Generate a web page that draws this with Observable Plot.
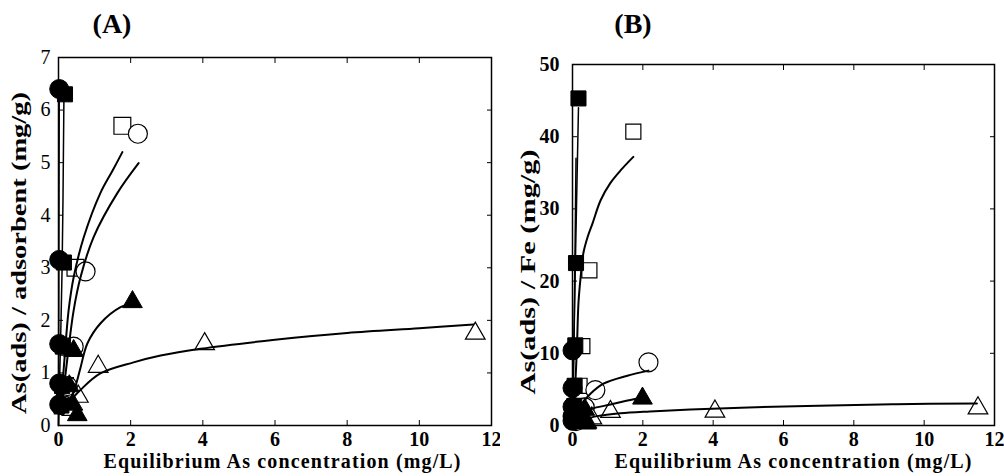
<!DOCTYPE html>
<html><head><meta charset="utf-8">
<script src="https://cdn.jsdelivr.net/npm/d3@7"></script>
<script src="https://cdn.jsdelivr.net/npm/@observablehq/plot@0.6"></script>
<style>
body{margin:0;background:#fff;}
#wrap{position:relative;width:1004px;height:476px;overflow:hidden;background:#fff;font-family:"Liberation Serif",serif;}
#wrap svg{position:absolute;top:0;}
</style></head><body><div id="wrap"></div>
<script>
// ---- shared ticks ----
const xTicks = [0, 2, 4, 6, 8, 10, 12];
const yTicksA = [0, 1, 2, 3, 4, 5, 6, 7];
const yTicksB = [0, 10, 20, 30, 40, 50];

// ---- Panel A: As(ads)/adsorbent (mg/g) ----
const aFilledCircleX = [0.02, 0.02, 0.02, 0.02, 0.02];
const aFilledCircleY = [6.4, 3.15, 1.55, 0.8, 0.4];
const aFilledSquareX = [0.18, 0.15, 0.12, 0.1, 0.08];
const aFilledSquareY = [6.3, 3.1, 1.5, 0.75, 0.38];
const aOpenSquareX = [1.77, 0.47, 0.28, 0.18, 0.12];
const aOpenSquareY = [5.7, 3.0, 1.5, 0.75, 0.38];
const aOpenCircleX = [2.2, 0.75, 0.42, 0.25, 0.15];
const aOpenCircleY = [5.55, 2.93, 1.5, 0.75, 0.38];
const aFilledTriX = [2.05, 0.42, 0.3, 0.4, 0.52];
const aFilledTriY = [2.35, 1.42, 0.75, 0.4, 0.2];
const aOpenTriX = [11.55, 4.05, 1.1, 0.55, 0.4];
const aOpenTriY = [1.75, 1.55, 1.12, 0.55, 0.3];

// fitted curves, panel A
const aLineCircleX = [0.0, 0.01, 0.02];
const aLineCircleY = [0.0, 3.0, 6.2];
const aLineSquareX = [0.0, 0.1, 0.15];
const aLineSquareY = [0.0, 3.0, 6.2];
const aLineOpenSquareX = [0.08, 0.17, 0.28, 0.42, 0.7, 1.16, 1.5, 1.77];
const aLineOpenSquareY = [0.5, 1.3, 2.19, 2.82, 3.58, 4.42, 4.85, 5.2];
const aLineOpenCircleX = [0.1, 0.25, 0.42, 0.61, 0.97, 1.63, 2.22];
const aLineOpenCircleY = [0.4, 1.3, 2.19, 2.82, 3.58, 4.42, 4.99];
const aLineFilledTriX = [0.1, 0.3, 0.47, 0.61, 0.8, 1.16, 1.72, 2.05];
const aLineFilledTriY = [0.2, 0.45, 0.75, 1.1, 1.56, 1.94, 2.25, 2.32];
const aLineOpenTriX = [0.3, 0.6, 1.16, 2.08, 2.83, 3.94, 6, 8, 10, 11.5];
const aLineOpenTriY = [0.45, 0.67, 0.99, 1.2, 1.33, 1.46, 1.63, 1.76, 1.85, 1.92];

// ---- Panel B: As(ads)/Fe (mg/g) ----
const bFilledCircleX = [0.0, 0.0, 0.0, 0.0, 0.0];
const bFilledCircleY = [10.4, 5.2, 2.6, 1.3, 0.65];
const bFilledSquareX = [0.17, 0.1, 0.08, 0.06, 0.05];
const bFilledSquareY = [45.3, 22.5, 11.1, 5.5, 2.7];
const bOpenSquareX = [1.73, 0.48, 0.28, 0.2, 0.15];
const bOpenSquareY = [40.7, 21.5, 11.0, 5.5, 2.7];
const bOpenCircleX = [2.16, 0.65, 0.35, 0.2, 0.1];
const bOpenCircleY = [8.75, 4.9, 2.5, 1.25, 0.6];
const bFilledTriX = [1.99, 0.35, 0.3, 0.35, 0.4];
const bFilledTriY = [3.75, 2.2, 1.1, 0.6, 0.3];
const bOpenTriX = [11.53, 4.05, 1.08, 0.55, 0.4];
const bOpenTriY = [2.4, 1.95, 1.9, 1.0, 0.5];

const bLineSquareX = [0.0, 0.08, 0.17];
const bLineSquareY = [0.0, 22, 44];
const bLineCircleX = [0.0, 0.05, 0.1];
const bLineCircleY = [0.0, 15, 37];
const bLineOpenSquareX = [0.05, 0.12, 0.17, 0.23, 0.31, 0.43, 0.57, 0.8, 1.08, 1.4, 1.73];
const bLineOpenSquareY = [3, 10, 17, 20.5, 23.9, 26.1, 28, 31.2, 33.6, 35.5, 37.2];
const bLineOpenCircleX = [0.1, 0.3, 0.51, 0.88, 1.56, 2.16];
const bLineOpenCircleY = [1.5, 3.2, 4.4, 5.8, 6.9, 7.6];
const bLineFilledTriX = [0.1, 0.3, 0.6, 1.08, 1.5, 1.85];
const bLineFilledTriY = [1.0, 1.8, 2.4, 2.9, 3.4, 3.75];
const bLineOpenTriX = [0.3, 0.7, 1.36, 2.2, 3.35, 5, 7, 9.2, 11.5];
const bLineOpenTriY = [0.8, 1.3, 1.7, 1.95, 2.2, 2.5, 2.75, 2.95, 3.05];

const pts = (xs, ys) => xs.map((x, i) => ({x, y: ys[i]}));
const FONT = "Liberation Serif, Times New Roman, Times, serif";
const intFmt = d3.format("d");

function panel(o) {
  const open = (xs, ys, symbol, r) => Plot.dot(pts(xs, ys), {x: "x", y: "y", symbol, r, fill: "white", stroke: "black", strokeWidth: 1.2});
  const filled = (xs, ys, symbol, r) => Plot.dot(pts(xs, ys), {x: "x", y: "y", symbol, r, fill: "black", stroke: "black", strokeWidth: 1});
  const line = (xs, ys, w) => Plot.line(pts(xs, ys), {x: "x", y: "y", stroke: "black", strokeWidth: w || 2, curve: "catmull-rom"});
  return Plot.plot({
    width: o.width, height: 476,
    marginLeft: o.ml, marginRight: o.mr, marginTop: o.mt, marginBottom: o.mb,
    x: {domain: [0, 12]},
    y: {domain: o.yDomain},
    style: {fontFamily: FONT, fontSize: "20px", color: "black", background: "white", overflow: "visible"},
    marks: [
      ...o.open.map(s => open(s[0], s[1], s[2], s[3])),
      ...o.lines.map(s => line(s[0], s[1], s[2])),
      ...o.filled.map(s => filled(s[0], s[1], s[2], s[3])),
      Plot.axisX({anchor: "bottom", ticks: xTicks, tickSize: -5, tickPadding: 11, tickFormat: intFmt, label: null, fontWeight: "bold"}),
      Plot.axisX({anchor: "top", ticks: xTicks, tickSize: -5, tickFormat: () => "", label: null}),
      Plot.axisY({anchor: "left", ticks: o.yTicks, tickSize: -5, tickPadding: o.yPad, tickFormat: intFmt, label: null, fontWeight: o.yWeight}),
      Plot.axisY({anchor: "right", ticks: o.yTicks, tickSize: -5, tickFormat: () => "", label: null}),
      Plot.frame({stroke: "black", strokeWidth: 1.5})
    ]
  });
}

const A = panel({
  width: 500, ml: 58, mr: 9, mt: 57, mb: 51, yDomain: [0, 7], yTicks: yTicksA, yPad: 13, yWeight: "normal",
  open: [
    [aOpenSquareX, aOpenSquareY, "square", 9.5],
    [aOpenCircleX, aOpenCircleY, "circle", 9.5],
    [aOpenTriX, aOpenTriY, "triangle", 7.3]
  ],
  lines: [
    [aLineCircleX, aLineCircleY, 1.5],
    [aLineSquareX, aLineSquareY, 1.5],
    [aLineOpenSquareX, aLineOpenSquareY],
    [aLineOpenCircleX, aLineOpenCircleY],
    [aLineFilledTriX, aLineFilledTriY],
    [aLineOpenTriX, aLineOpenTriY]
  ],
  filled: [
    [aFilledTriX, aFilledTriY, "triangle", 7.3],
    [aFilledSquareX, aFilledSquareY, "square", 8.5],
    [aFilledCircleX, aFilledCircleY, "circle", 9.5]
  ]
});
A.style.left = "0px";

const B = panel({
  width: 504, ml: 72, mr: 10, mt: 64, mb: 51, yDomain: [0, 50], yTicks: yTicksB, yPad: 18, yWeight: "bold",
  open: [
    [bOpenSquareX, bOpenSquareY, "square", 8.5],
    [bOpenCircleX, bOpenCircleY, "circle", 9.5],
    [bOpenTriX, bOpenTriY, "triangle", 7.3]
  ],
  lines: [
    [bLineSquareX, bLineSquareY, 1.5],
    [bLineCircleX, bLineCircleY, 1.5],
    [bLineOpenSquareX, bLineOpenSquareY],
    [bLineOpenCircleX, bLineOpenCircleY],
    [bLineFilledTriX, bLineFilledTriY],
    [bLineOpenTriX, bLineOpenTriY]
  ],
  filled: [
    [bFilledTriX, bFilledTriY, "triangle", 7.3],
    [bFilledCircleX, bFilledCircleY, "circle", 9.5],
    [bFilledSquareX, bFilledSquareY, "square", 8.5]
  ]
});
B.style.left = "500px";

const wrap = document.getElementById("wrap");
wrap.appendChild(A);
wrap.appendChild(B);

// ---- titles, panel labels ----
const ov = d3.select(wrap).append("svg")
  .attr("width", 1004).attr("height", 476)
  .style("left", "0px")
  .style("font-family", FONT)
  .attr("font-weight", "bold").attr("fill", "black");

function label(x, y, s, size, len, rot, adjust) {
  const t = ov.append("text").attr("text-anchor", "middle").attr("font-size", size).text(s);
  if (rot) t.attr("transform", `translate(${x},${y}) rotate(-90)`).attr("dy", "0.35em");
  else t.attr("x", x).attr("y", y);
  if (len) t.attr("textLength", len).attr("lengthAdjust", adjust || "spacing");
}
label(112, 33, "(A)", 28);
label(633, 33, "(B)", 28);
label(282, 468, "Equilibrium As concentration (mg/L)", 20, 357);
label(793, 468, "Equilibrium As concentration (mg/L)", 20, 357);
label(19, 253, "As(ads) / adsorbent (mg/g)", 21, 322, true, "spacingAndGlyphs");
label(528, 272, "As(ads) / Fe (mg/g)", 21, 245, true, "spacingAndGlyphs");
</script>
</body></html>
